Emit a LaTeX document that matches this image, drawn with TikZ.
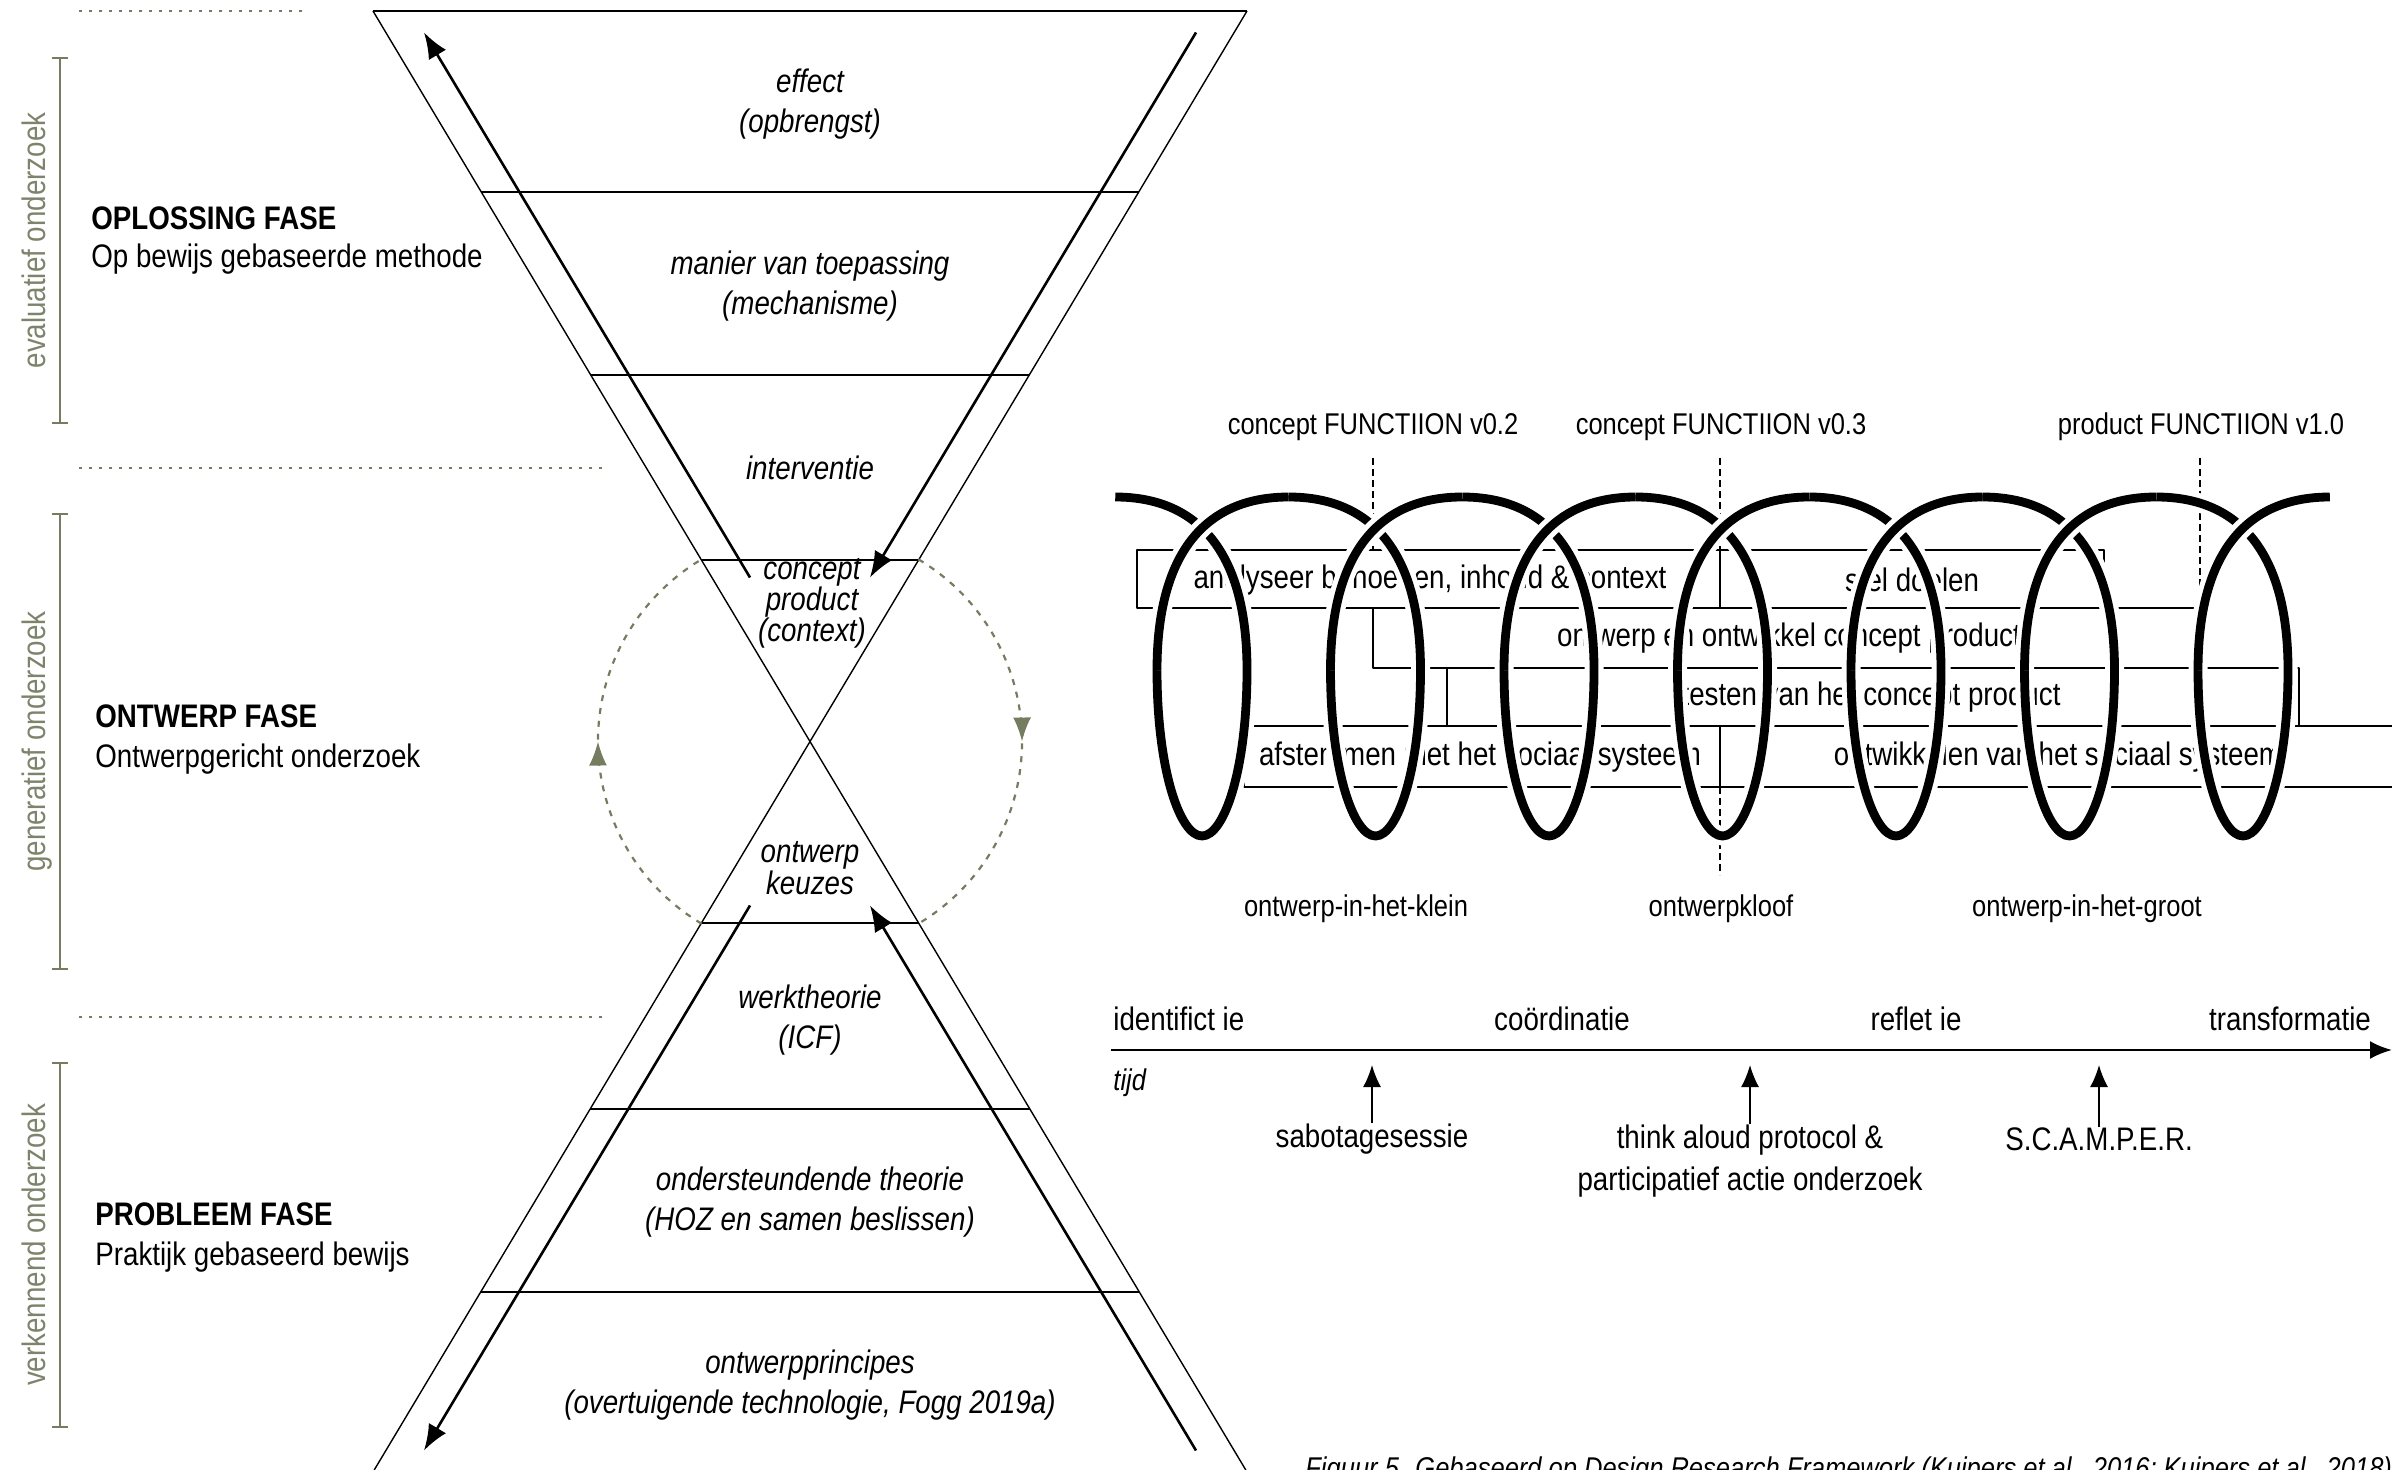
\documentclass[tikz,border=0pt]{standalone}
\usepackage{fontspec}
\setmainfont{Liberation Sans}[FakeStretch=0.85]
\usetikzlibrary{arrows.meta,calc,decorations.markings}
\definecolor{sage}{RGB}{118,124,96}
\definecolor{sagetext}{RGB}{126,132,108}

\begin{document}
\begin{tikzpicture}[>=Latex, line join=bevel, x=0.5pt, y=0.5pt,
  separator/.style={draw=sage, line width=1pt, dash pattern=on 1.5pt off 3.5pt},
  bracket/.style={draw=sage, line width=0.8pt, {Bar[width=8pt]}-{Bar[width=8pt]}},
  research/.style={inner sep=0pt, anchor=base, rotate=90, text=sagetext, font=\fontsize{16.3}{20}\selectfont},
  phase/.style={inner sep=0pt, anchor=base west, font=\fontsize{16.3}{20}\selectfont\bfseries},
  phasesub/.style={inner sep=0pt, anchor=base west, font=\fontsize{16.3}{20}\selectfont},
  outer/.style={line width=0.7pt},
  rung/.style={line width=1pt},
  flow/.style={line width=1.3pt, -{Latex[length=13pt,width=10pt]}},
  layertxt/.style={inner sep=0pt, align=center, font=\fontsize{16.3}{20}\selectfont\itshape},
  cyclus/.style={draw=sage, line width=1.1pt, dash pattern=on 3pt off 3.5pt, postaction={decorate},
    decoration={markings, mark=at position 0.5 with {\arrow{Latex[length=12pt,width=9pt]}}}},
  box/.style={line width=0.7pt},
  boxtxt/.style={inner sep=0pt, font=\fontsize{16.3}{20}\selectfont},
  milestone/.style={inner sep=0pt, font=\fontsize{15}{18}\selectfont},
  guide/.style={line width=0.7pt, dash pattern=on 3.5pt off 2pt},
  coil/.style={line width=4.4pt, preaction={draw=white, line width=9.5pt}},
  timeline/.style={line width=1.3pt, -{Latex[length=11pt,width=9pt]}},
  method/.style={line width=0.8pt, -{Latex[length=11pt,width=9pt]}},
  figcap/.style={inner sep=0pt, anchor=base west, font=\fontsize{15}{18}\selectfont\itshape},
]
\useasboundingbox (0,0) rectangle (2392,-1470);
%%
%% left: kind of research and phases
\draw[separator] (79,-11) -- (306,-11);
\draw[separator] (79,-468) -- (609,-468);
\draw[separator] (79,-1017) -- (609,-1017);
\foreach \name/\ya/\yb/\lab in {eval/57/424/evaluatief onderzoek,gen/513/970/generatief onderzoek,verk/1062/1428/verkennend onderzoek}{
  \draw[bracket] (60,-\ya) -- (60,-\yb);
  \node (\name) at (45,{-(\ya+\yb)/2}) [research] {\lab};
}
\node (oplossing) at (91,-230) [phase] {OPLOSSING FASE};
\node (oplossing-sub) at (91,-268) [phasesub] {Op bewijs gebaseerde methode};
\node (ontwerp) at (95,-727) [phase] {ONTWERP FASE};
\node (ontwerp-sub) at (95,-767) [phasesub] {Ontwerpgericht onderzoek};
\node (probleem) at (95,-1225) [phase] {PROBLEEM FASE};
\node (probleem-sub) at (95,-1265) [phasesub] {Praktijk gebaseerd bewijs};
%
%% hourglass
\coordinate (hg) at (810,-741.5);
\draw[outer] (373,-11) -- (1245.8,-1470);
\draw[outer] (1247,-11) -- (374.2,-1470);
\draw[rung, line width=1.2pt] (373,-11) -- (1247,-11);
\foreach \yy in {192,375,560,923,1109,1292}{
  \pgfmathsetmacro\hw{0.5982*abs(741.5-\yy)}
  \draw[rung] (810-\hw,-\yy) -- (810+\hw,-\yy);
}
\coordinate (a1) at (750,-577.5);  \coordinate (a2) at (424,-32.5);
\coordinate (b1) at (1196,-32.5);  \coordinate (b2) at (870,-577.5);
\coordinate (c1) at (1196,-1450.5); \coordinate (c2) at (870,-905.5);
\coordinate (d1) at (750,-905.5);  \coordinate (d2) at (424,-1450.5);
\draw[flow] (a1) -- (a2);
\draw[flow] (b1) -- (b2);
\draw[flow] (c1) -- (c2);
\draw[flow] (d1) -- (d2);
\node (effect) at (810,-104) [layertxt] {effect\\(opbrengst)};
\node (manier) at (810,-286) [layertxt] {manier van toepassing\\(mechanisme)};
\node (interventie) at (810,-468) [layertxt] {interventie};
\node (concept) at (812,-603) [layertxt, font=\fontsize{16.3}{15.5}\selectfont\itshape] {concept\\product\\(context)};
\node (keuzes) at (810,-868) [layertxt, font=\fontsize{16.3}{14.5}\selectfont\itshape] {ontwerp\\keuzes};
\node (werktheorie) at (810,-1020) [layertxt] {werktheorie\\(ICF)};
\node (theorie) at (810,-1202) [layertxt] {ondersteundende theorie\\(HOZ en samen beslissen)};
\node (principes) at (810,-1385) [layertxt] {ontwerpprincipes\\(overtuigende technologie, Fogg 2019a)};
\draw[cyclus] ($(hg)+(239.25:212)$) arc[start angle=239.25, end angle=120.75, radius=212];
\draw[cyclus] ($(hg)+(59.25:212)$) arc[start angle=59.25, end angle=-59.25, radius=212];
%
%% right: activities along the coil
\node (v02) at (1373,-427) [milestone] {concept FUNCTIION v0.2};
\node (v03) at (1721,-427) [milestone] {concept FUNCTIION v0.3};
\node (v10) at (2201,-427) [milestone] {product FUNCTIION v1.0};
\draw[guide] (1373,-458) -- (1373,-550);
\draw[guide] (1720,-458) -- (1720,-550);
\draw[guide] (2200,-458) -- (2200,-608);
\draw[guide] (1720,-787) -- (1720,-875);
\draw[box] (1137,-550) rectangle (1720,-608);
\draw[box] (1720,-550) rectangle (2104,-608);
\draw[box] (1373,-608) rectangle (2200,-668);
\draw[box] (1447,-668) rectangle (2299,-726);
\draw[box] (1244,-726) rectangle (1720,-787);
\draw[box] (1720,-726) rectangle (2420,-787);
\node (analyse) at (1430,-580) [boxtxt] {analyseer behoeften, inhoud \& context};
\node (doelen) at (1912,-580) [boxtxt] {stel doelen};
\node (ontwikkel) at (1789,-638) [boxtxt] {ontwerp en ontwikkel concept product};
\node (testen) at (1871,-697) [boxtxt] {testen van het concept product};
\node (afstemmen) at (1480,-757) [boxtxt] {afstemmen met het sociaal systeem};
\node (sociaal) at (2058,-757) [boxtxt] {ontwikkelen van het sociaal systeem};
% coil: back half, then front half of every turn
\foreach \k in {0,...,6}{
  \pgfmathsetmacro\xc{1202+173.5*\k}
  \draw[coil] (\xc-86.75,-497) .. controls (\xc-1.75,-497) and (\xc+45,-555) .. (\xc+45,-670)
    .. controls (\xc+45,-770) and (\xc+22,-836) .. (\xc,-836)
    .. controls (\xc-22,-836) and (\xc-45,-770) .. (\xc-45,-670);
  \draw[coil] (\xc-45,-670) .. controls (\xc-45,-555) and (\xc+1.75,-497) .. (\xc+86.75,-497);
}
\node (klein) at (1356,-909) [milestone] {ontwerp-in-het-klein};
\node (kloof) at (1721,-909) [milestone] {ontwerpkloof};
\node (groot) at (2087,-909) [milestone] {ontwerp-in-het-groot};
%
%% time line
\coordinate (t0) at (1111,-1050);
\coordinate (t1) at (2392,-1050);
\draw[timeline] (t0) -- (t1);
\node (ident) at (1113,-1019) [boxtxt, anchor=west] {identifict ie};
\node (coord) at (1562,-1019) [boxtxt] {coördinatie};
\node (reflectie) at (1916,-1019) [boxtxt] {reflet ie};
\node (transf) at (2290,-1019) [boxtxt] {transformatie};
\node (tijd) at (1113,-1083) [boxtxt, anchor=west, font=\fontsize{15}{18}\selectfont\itshape] {tijd};
\node (sabotage) at (1372,-1139) [boxtxt] {sabotagesessie};
\node (thinkaloud) at (1750,-1161) [boxtxt, align=center, font=\fontsize{16.3}{21}\selectfont] {think aloud protocol \&\\participatief actie onderzoek};
\node (scamper) at (2099,-1139) [boxtxt] {S.C.A.M.P.E.R.};
\coordinate (m1) at (1372,-1065);
\coordinate (m2) at (1750,-1065);
\coordinate (m3) at (2099,-1065);
\draw[method] (sabotage) -- (m1);
\draw[method] (thinkaloud) -- (m2);
\draw[method] (scamper) -- (m3);
\node (caption) at (1305,-1478) [figcap] {Figuur 5. Gebaseerd op Design Research Framework (Kuipers et al., 2016; Kuipers et al., 2018)};
%
\end{tikzpicture}
\end{document}
